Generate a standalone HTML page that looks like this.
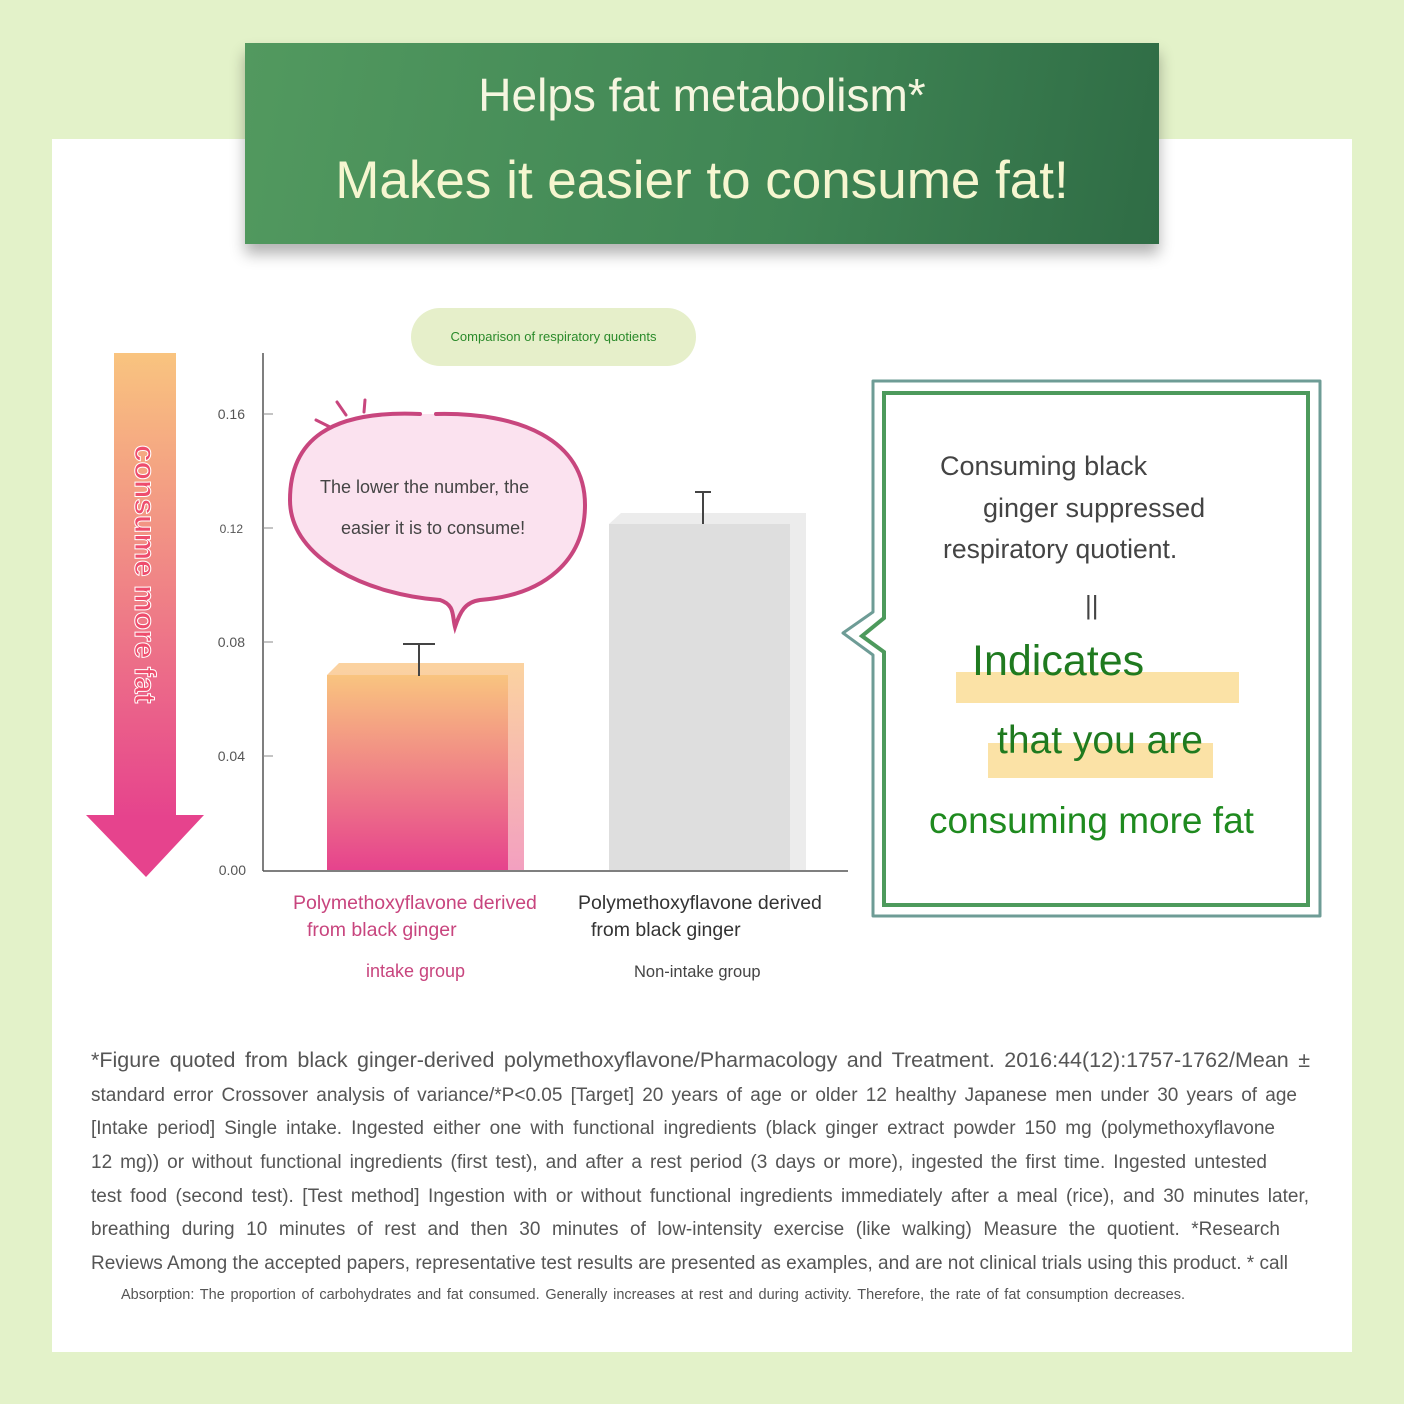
<!DOCTYPE html>
<html><head><meta charset="utf-8"><style>
body{margin:0;width:1404px;height:1404px;background:#e3f2c9;position:relative;overflow:hidden;font-family:"Liberation Sans",sans-serif}
.a{position:absolute;white-space:nowrap}
.fn div{height:33.7px;text-align:justify;text-align-last:justify;white-space:nowrap}
</style></head><body>
<div class="a" style="left:52px;top:139px;width:1300px;height:1213px;background:#fff"></div>
<div class="a" style="left:245px;top:43px;width:914px;height:201px;background:linear-gradient(100deg,#52995f,#3f8554 60%,#2f6c45);box-shadow:0 10px 14px rgba(0,0,0,.3)"></div>
<div class="a" style="left:245px;top:68px;width:914px;text-align:center;color:#f6f6e0;font-size:46px">Helps fat metabolism*</div>
<div class="a" style="left:245px;top:150px;width:914px;text-align:center;color:#f6f6d0;font-size:53px">Makes it easier to consume fat!</div>
<div class="a" style="left:411px;top:308px;width:285px;height:58px;border-radius:29px;background:#e6efca;color:#2a8a2a;font-size:13px;text-align:center;line-height:58px">Comparison of respiratory quotients</div>
<svg class="a" style="left:0;top:0" width="1404" height="1404">
<defs>
<linearGradient id="g1" x1="0" y1="0" x2="0" y2="1"><stop offset="0" stop-color="#f9c47f"/><stop offset="1" stop-color="#e6438d"/></linearGradient>
<linearGradient id="g2" x1="0" y1="0" x2="0" y2="1"><stop offset="0" stop-color="#fbd3a0"/><stop offset="1" stop-color="#f3a0c0"/></linearGradient>
</defs>
<rect x="114" y="353" width="62" height="465" fill="url(#g1)"/>
<polygon points="86,815 204,815 146,877" fill="#e6438d"/>
<line x1="263" y1="353" x2="263" y2="871" stroke="#555" stroke-width="1.5"/>
<line x1="263" y1="871" x2="848" y2="871" stroke="#555" stroke-width="1.5"/>
<g stroke="#888"><line x1="263" y1="414" x2="273" y2="414"/><line x1="263" y1="528" x2="273" y2="528"/><line x1="263" y1="642" x2="273" y2="642"/><line x1="263" y1="756" x2="273" y2="756"/></g>
<g font-size="14" fill="#555" text-anchor="end"><text x="245" y="419">0.16</text><text x="243" y="533" font-size="12">0.12</text><text x="245" y="647">0.08</text><text x="245" y="761">0.04</text><text x="246" y="875">0.00</text></g>
<polygon points="327,675 339,663 524,663 524,870 508,870 508,675" fill="url(#g2)"/>
<rect x="327" y="675" width="181" height="195" fill="url(#g1)"/>
<polygon points="609,524 621,513 806,513 806,870 790,870 790,524" fill="#ececec"/>
<rect x="609" y="524" width="181" height="346" fill="#dedede"/>
<g stroke="#444" stroke-width="2"><line x1="419" y1="644" x2="419" y2="676"/><line x1="403" y1="644" x2="435" y2="644"/><line x1="703" y1="492" x2="703" y2="524"/><line x1="695" y1="492" x2="711" y2="492"/></g>
<path d="M420,414 C330,410 290,440 290,500 C290,560 370,595 440,600 C455,605 452,615 455,627 C460,612 465,602 480,600 C545,595 585,560 585,505 C585,440 520,412 436,414" fill="#fbe2ef" stroke="#c8467e" stroke-width="4" stroke-linecap="round"/>
<g stroke="#c8467e" stroke-width="3" stroke-linecap="round"><line x1="316" y1="420" x2="330" y2="427"/><line x1="337" y1="402" x2="346" y2="415"/><line x1="365" y1="400" x2="364" y2="412"/></g>
<path d="M873,381 H1320 V916 H873 V655 L843,633 L873,612 Z" fill="#fff" stroke="#6e9c96" stroke-width="3" stroke-linejoin="round"/>
<path d="M884,393 H1308 V905 H884 V652 L862,636 L884,618 Z" fill="#fff" stroke="#4d9a5c" stroke-width="4"/>
<rect x="956" y="672" width="283" height="31" fill="#fbe2a6"/>
<rect x="988" y="743" width="225" height="35" fill="#fbe2a6"/>
</svg>
<div class="a" style="left:129px;top:445px;width:30px;height:280px;"><div style="transform:rotate(90deg);transform-origin:0 0;position:absolute;left:30px;top:0;font-size:30px;color:#ee4d6d;-webkit-text-stroke:1px #fff;font-weight:bold;white-space:nowrap;line-height:30px">consume more fat</div></div>
<div class="a" style="left:320px;top:477px;font-size:18px;color:#444">The lower the number, the</div>
<div class="a" style="left:341px;top:518px;font-size:18px;color:#444">easier it is to consume!</div>
<div class="a" style="left:293px;top:892px;font-size:19.5px;color:#c8457e">Polymethoxyflavone derived</div>
<div class="a" style="left:307px;top:919px;font-size:19.5px;color:#c8457e">from black ginger</div>
<div class="a" style="left:366px;top:961px;font-size:18px;color:#c8457e">intake group</div>
<div class="a" style="left:578px;top:892px;font-size:19.5px;color:#333">Polymethoxyflavone derived</div>
<div class="a" style="left:591px;top:919px;font-size:19.5px;color:#333">from black ginger</div>
<div class="a" style="left:634px;top:963px;font-size:16.5px;color:#444">Non-intake group</div>
<div class="a" style="left:940px;top:451px;font-size:27px;color:#444">Consuming black</div>
<div class="a" style="left:983px;top:493px;font-size:27px;color:#444">ginger suppressed</div>
<div class="a" style="left:943px;top:534px;font-size:26.5px;color:#444">respiratory quotient.</div>
<div class="a" style="left:1085px;top:590px;font-size:26px;color:#444">||</div>
<div class="a" style="left:972px;top:637px;font-size:43px;color:#1f7a1f">Indicates</div>
<div class="a" style="left:997px;top:719px;font-size:39px;color:#1f7a1f">that you are</div>
<div class="a" style="left:929px;top:800px;font-size:37px;color:#1f8a1f">consuming more fat</div>
<div class="a fn" style="left:91px;top:1045px;font-size:19px;color:#555;line-height:33.7px">
<div style="width:1219px;font-size:21.5px;line-height:30px;height:33.7px">*Figure quoted from black ginger-derived polymethoxyflavone/Pharmacology and Treatment. 2016:44(12):1757-1762/Mean ±</div>
<div style="width:1206px">standard error Crossover analysis of variance/*P&lt;0.05 [Target] 20 years of age or older 12 healthy Japanese men under 30 years of age</div>
<div style="width:1184px">[Intake period] Single intake. Ingested either one with functional ingredients (black ginger extract powder 150 mg (polymethoxyflavone</div>
<div style="width:1176px">12 mg)) or without functional ingredients (first test), and after a rest period (3 days or more), ingested the first time. Ingested untested</div>
<div style="width:1218px">test food (second test). [Test method] Ingestion with or without functional ingredients immediately after a meal (rice), and 30 minutes later,</div>
<div style="width:1189px">breathing during 10 minutes of rest and then 30 minutes of low-intensity exercise (like walking) Measure the quotient. *Research</div>
<div style="width:1197px">Reviews Among the accepted papers, representative test results are presented as examples, and are not clinical trials using this product. * call</div>
</div>
<div class="a" style="left:121px;top:1287px;font-size:14.5px;color:#555;width:1064px;text-align:justify;text-align-last:justify">Absorption: The proportion of carbohydrates and fat consumed. Generally increases at rest and during activity. Therefore, the rate of fat consumption decreases.</div>
</body></html>
